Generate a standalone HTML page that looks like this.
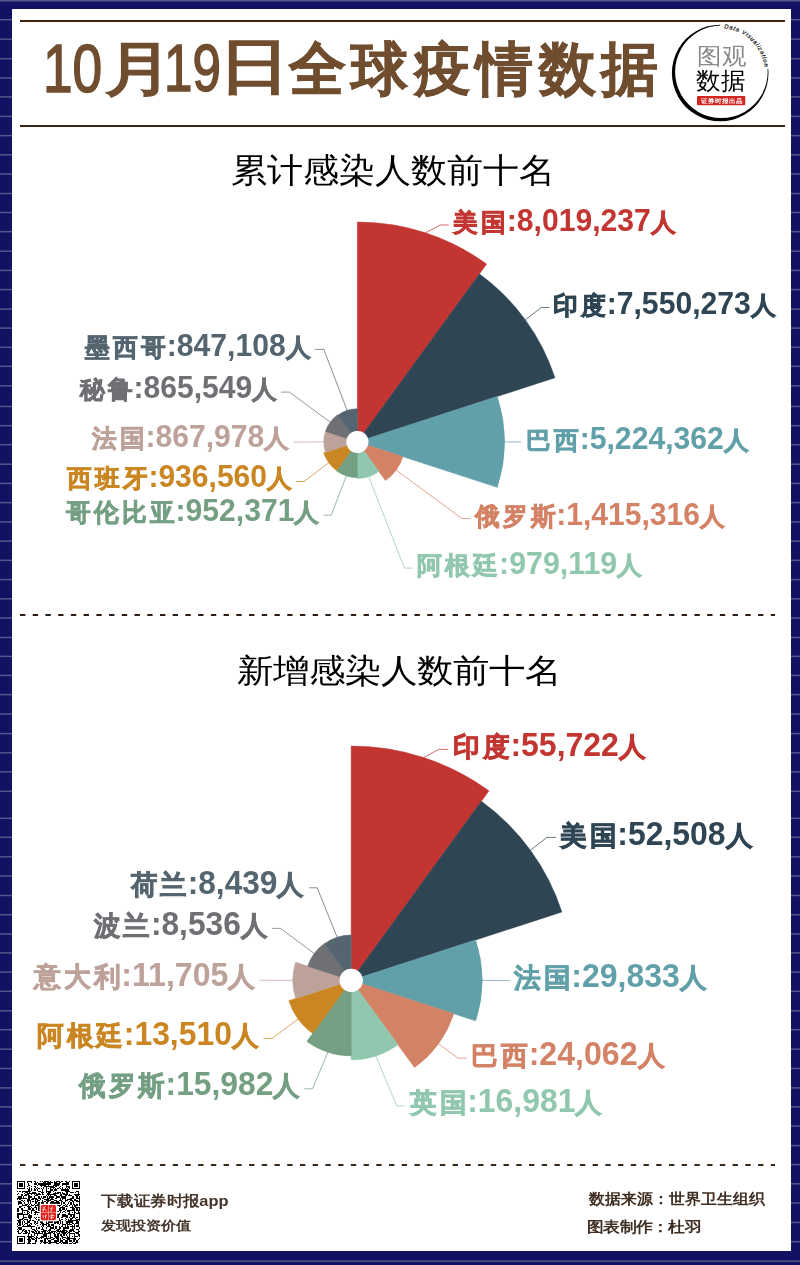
<!DOCTYPE html>
<html><head><meta charset="utf-8"><title>10月19日全球疫情数据</title>
<style>
*{margin:0;padding:0;box-sizing:border-box}
html,body{width:800px;height:1265px;overflow:hidden;background:#111262}
body{position:relative;font-family:"Liberation Sans",sans-serif}
#bg{position:absolute;left:0;top:0}
.lb{position:absolute;white-space:nowrap;font-size:30.5px;font-weight:bold;line-height:36px;transform-origin:0 0}
.c{font-size:24.7px;letter-spacing:3.3px;margin-right:-2.3px;-webkit-text-stroke:0.75px currentColor}
.lb2{font-size:32.4px}
.lb2 .c{font-size:26.6px;letter-spacing:3.1px;margin-right:-2.1px}
.t{position:absolute;white-space:nowrap;transform-origin:0 0;line-height:1.2}
</style></head><body>
<svg id="bg" width="800" height="1265" viewBox="0 0 800 1265">
<rect width="800" height="1265" fill="#111262"/>
<g fill="#56568a"><rect x="0" y="0.00" width="800" height="1.5"/><rect x="0" y="18.95" width="800" height="1.5"/><rect x="0" y="38.45" width="800" height="1.5"/><rect x="0" y="57.95" width="800" height="1.5"/><rect x="0" y="77.15" width="800" height="1.5"/><rect x="0" y="96.15" width="800" height="1.5"/><rect x="0" y="115.65" width="800" height="1.5"/><rect x="0" y="134.85" width="800" height="1.5"/><rect x="0" y="154.05" width="800" height="1.5"/><rect x="0" y="173.25" width="800" height="1.5"/><rect x="0" y="192.75" width="800" height="1.5"/><rect x="0" y="211.75" width="800" height="1.5"/><rect x="0" y="230.95" width="800" height="1.5"/><rect x="0" y="250.45" width="800" height="1.5"/><rect x="0" y="269.65" width="800" height="1.5"/><rect x="0" y="288.85" width="800" height="1.5"/><rect x="0" y="308.35" width="800" height="1.5"/><rect x="0" y="327.35" width="800" height="1.5"/><rect x="0" y="346.55" width="800" height="1.5"/><rect x="0" y="365.55" width="800" height="1.5"/><rect x="0" y="385.05" width="800" height="1.5"/><rect x="0" y="405.75" width="800" height="1.5"/><rect x="0" y="424.95" width="800" height="1.5"/><rect x="0" y="443.95" width="800" height="1.5"/><rect x="0" y="463.45" width="800" height="1.5"/><rect x="0" y="482.65" width="800" height="1.5"/><rect x="0" y="501.85" width="800" height="1.5"/><rect x="0" y="521.15" width="800" height="1.5"/><rect x="0" y="540.35" width="800" height="1.5"/><rect x="0" y="559.55" width="800" height="1.5"/><rect x="0" y="578.85" width="800" height="1.5"/><rect x="0" y="598.05" width="800" height="1.5"/><rect x="0" y="617.25" width="800" height="1.5"/><rect x="0" y="636.75" width="800" height="1.5"/><rect x="0" y="655.65" width="800" height="1.5"/><rect x="0" y="674.65" width="800" height="1.5"/><rect x="0" y="693.85" width="800" height="1.5"/><rect x="0" y="713.35" width="800" height="1.5"/><rect x="0" y="732.85" width="800" height="1.5"/><rect x="0" y="752.05" width="800" height="1.5"/><rect x="0" y="771.05" width="800" height="1.5"/><rect x="0" y="790.55" width="800" height="1.5"/><rect x="0" y="817.55" width="800" height="1.5"/><rect x="0" y="836.55" width="800" height="1.5"/><rect x="0" y="856.05" width="800" height="1.5"/><rect x="0" y="875.25" width="800" height="1.5"/><rect x="0" y="894.75" width="800" height="1.5"/><rect x="0" y="913.95" width="800" height="1.5"/><rect x="0" y="933.25" width="800" height="1.5"/><rect x="0" y="952.15" width="800" height="1.5"/><rect x="0" y="971.35" width="800" height="1.5"/><rect x="0" y="990.55" width="800" height="1.5"/><rect x="0" y="1010.05" width="800" height="1.5"/><rect x="0" y="1028.95" width="800" height="1.5"/><rect x="0" y="1048.45" width="800" height="1.5"/><rect x="0" y="1067.75" width="800" height="1.5"/><rect x="0" y="1087.15" width="800" height="1.5"/><rect x="0" y="1106.15" width="800" height="1.5"/><rect x="0" y="1125.35" width="800" height="1.5"/><rect x="0" y="1144.85" width="800" height="1.5"/><rect x="0" y="1163.85" width="800" height="1.5"/><rect x="0" y="1183.05" width="800" height="1.5"/><rect x="0" y="1202.25" width="800" height="1.5"/><rect x="0" y="1221.75" width="800" height="1.5"/><rect x="0" y="1240.95" width="800" height="1.5"/><rect x="0" y="1260.45" width="800" height="1.5"/></g>
<rect x="12" y="9" width="779" height="1242" fill="#ffffff"/>
<rect x="20" y="20" width="765" height="2" fill="#3b2412"/>
<rect x="20" y="125" width="765" height="2" fill="#3b2412"/>
<line x1="20" y1="615" x2="775" y2="615" stroke="#2e1d10" stroke-width="2" stroke-dasharray="5.35 7.375"/>
<line x1="20" y1="1165" x2="775" y2="1165" stroke="#3a2818" stroke-width="2" stroke-dasharray="5.35 7.375"/>
<path d="M357.40,430.90L357.40,222.10A219.80,219.80 0 0 1 486.60,264.08L363.87,433.00A11.00,11.00 0 0 0 357.40,430.90Z" fill="#c23531" stroke="#c23531" stroke-width="0.6" stroke-linejoin="round"/>
<path d="M363.87,433.00L479.42,273.96A207.59,207.59 0 0 1 554.83,377.75L367.86,438.50A11.00,11.00 0 0 0 363.87,433.00Z" fill="#2f4554" stroke="#2f4554" stroke-width="0.6" stroke-linejoin="round"/>
<path d="M367.86,438.50L497.23,396.47A147.03,147.03 0 0 1 497.23,487.33L367.86,445.30A11.00,11.00 0 0 0 367.86,438.50Z" fill="#61a0a8" stroke="#61a0a8" stroke-width="0.6" stroke-linejoin="round"/>
<path d="M367.86,445.30L402.91,456.69A47.85,47.85 0 0 1 385.53,480.61L363.87,450.80A11.00,11.00 0 0 0 367.86,445.30Z" fill="#d48265" stroke="#d48265" stroke-width="0.6" stroke-linejoin="round"/>
<path d="M363.87,450.80L378.85,471.42A36.49,36.49 0 0 1 357.40,478.39L357.40,452.90A11.00,11.00 0 0 0 363.87,450.80Z" fill="#91c7ae" stroke="#91c7ae" stroke-width="0.6" stroke-linejoin="round"/>
<path d="M357.40,452.90L357.40,477.70A35.80,35.80 0 0 1 336.36,470.86L350.93,450.80A11.00,11.00 0 0 0 357.40,452.90Z" fill="#749f83" stroke="#749f83" stroke-width="0.6" stroke-linejoin="round"/>
<path d="M350.93,450.80L336.60,470.53A35.39,35.39 0 0 1 323.75,452.83L346.94,445.30A11.00,11.00 0 0 0 350.93,450.80Z" fill="#ca8622" stroke="#ca8622" stroke-width="0.6" stroke-linejoin="round"/>
<path d="M346.94,445.30L325.44,452.28A33.60,33.60 0 0 1 325.44,431.52L346.94,438.50A11.00,11.00 0 0 0 346.94,445.30Z" fill="#bda29a" stroke="#bda29a" stroke-width="0.6" stroke-linejoin="round"/>
<path d="M346.94,438.50L325.50,431.54A33.54,33.54 0 0 1 337.69,414.77L350.93,433.00A11.00,11.00 0 0 0 346.94,438.50Z" fill="#6e7074" stroke="#6e7074" stroke-width="0.6" stroke-linejoin="round"/>
<path d="M350.93,433.00L337.97,415.16A33.06,33.06 0 0 1 357.40,408.84L357.40,430.90A11.00,11.00 0 0 0 350.93,433.00Z" fill="#546570" stroke="#546570" stroke-width="0.6" stroke-linejoin="round"/>
<path d="M425.3,232.9 L440.3,225.0 L448.8,225.0" fill="none" stroke="#c23531" stroke-width="0.9" stroke-opacity="0.8"/>
<path d="M525.3,319.9 L541.2,307.5 L549.5,307.5" fill="none" stroke="#2f4554" stroke-width="0.9" stroke-opacity="0.8"/>
<path d="M504.4,441.9 L521.0,441.9" fill="none" stroke="#61a0a8" stroke-width="0.9" stroke-opacity="0.8"/>
<path d="M396.1,470.0 L461.9,518.5 L470.0,518.5" fill="none" stroke="#d48265" stroke-width="0.9" stroke-opacity="0.8"/>
<path d="M368.7,476.6 L404.4,568.1 L412.8,568.1" fill="none" stroke="#91c7ae" stroke-width="0.9" stroke-opacity="0.8"/>
<path d="M346.3,475.9 L331.2,515.2 L323.5,515.2" fill="none" stroke="#749f83" stroke-width="0.9" stroke-opacity="0.8"/>
<path d="M328.8,462.7 L304.0,481.5 L296.0,481.5" fill="none" stroke="#ca8622" stroke-width="0.9" stroke-opacity="0.8"/>
<path d="M323.8,441.9 L294.0,442.2" fill="none" stroke="#bda29a" stroke-width="0.9" stroke-opacity="0.8"/>
<path d="M330.3,422.2 L289.4,392.1 L281.0,392.1" fill="none" stroke="#6e7074" stroke-width="0.9" stroke-opacity="0.8"/>
<path d="M347.2,410.5 L323.8,349.4 L314.8,349.4" fill="none" stroke="#546570" stroke-width="0.9" stroke-opacity="0.8"/>
<circle cx="357.4" cy="441.9" r="11" fill="#fff"/>
<path d="M351.20,968.80L351.20,746.10A234.30,234.30 0 0 1 488.92,790.85L358.02,971.02A11.60,11.60 0 0 0 351.20,968.80Z" fill="#c23531" stroke="#c23531" stroke-width="0.6" stroke-linejoin="round"/>
<path d="M358.02,971.02L481.37,801.24A221.45,221.45 0 0 1 561.82,911.97L362.23,976.82A11.60,11.60 0 0 0 358.02,971.02Z" fill="#2f4554" stroke="#2f4554" stroke-width="0.6" stroke-linejoin="round"/>
<path d="M362.23,976.82L475.63,939.97A130.83,130.83 0 0 1 475.63,1020.83L362.23,983.98A11.60,11.60 0 0 0 362.23,976.82Z" fill="#61a0a8" stroke="#61a0a8" stroke-width="0.6" stroke-linejoin="round"/>
<path d="M362.23,983.98L453.69,1013.70A107.77,107.77 0 0 1 414.54,1067.59L358.02,989.78A11.60,11.60 0 0 0 362.23,983.98Z" fill="#d48265" stroke="#d48265" stroke-width="0.6" stroke-linejoin="round"/>
<path d="M358.02,989.78L397.91,1044.69A79.47,79.47 0 0 1 351.20,1059.87L351.20,992.00A11.60,11.60 0 0 0 358.02,989.78Z" fill="#91c7ae" stroke="#91c7ae" stroke-width="0.6" stroke-linejoin="round"/>
<path d="M351.20,992.00L351.20,1055.87A75.47,75.47 0 0 1 306.84,1041.46L344.38,989.78A11.60,11.60 0 0 0 351.20,992.00Z" fill="#749f83" stroke="#749f83" stroke-width="0.6" stroke-linejoin="round"/>
<path d="M344.38,989.78L312.64,1033.47A65.59,65.59 0 0 1 288.82,1000.67L340.17,983.98A11.60,11.60 0 0 0 344.38,989.78Z" fill="#ca8622" stroke="#ca8622" stroke-width="0.6" stroke-linejoin="round"/>
<path d="M340.17,983.98L295.68,998.44A58.38,58.38 0 0 1 295.68,962.36L340.17,976.82A11.60,11.60 0 0 0 340.17,983.98Z" fill="#bda29a" stroke="#bda29a" stroke-width="0.6" stroke-linejoin="round"/>
<path d="M340.17,976.82L307.72,966.27A45.72,45.72 0 0 1 324.33,943.42L344.38,971.02A11.60,11.60 0 0 0 340.17,976.82Z" fill="#6e7074" stroke="#6e7074" stroke-width="0.6" stroke-linejoin="round"/>
<path d="M344.38,971.02L324.56,943.73A45.33,45.33 0 0 1 351.20,935.07L351.20,968.80A11.60,11.60 0 0 0 344.38,971.02Z" fill="#546570" stroke="#546570" stroke-width="0.6" stroke-linejoin="round"/>
<path d="M423.6,757.6 L438.8,749.4 L448.4,749.4" fill="none" stroke="#c23531" stroke-width="0.9" stroke-opacity="0.8"/>
<path d="M530.4,850.2 L546.9,837.4 L555.9,837.4" fill="none" stroke="#2f4554" stroke-width="0.9" stroke-opacity="0.8"/>
<path d="M482.0,980.4 L510.0,980.6" fill="none" stroke="#61a0a8" stroke-width="0.9" stroke-opacity="0.8"/>
<path d="M438.4,1043.7 L458.0,1058.2 L467.0,1058.2" fill="none" stroke="#d48265" stroke-width="0.9" stroke-opacity="0.8"/>
<path d="M375.8,1056.0 L396.8,1106.0 L404.4,1106.0" fill="none" stroke="#91c7ae" stroke-width="0.9" stroke-opacity="0.8"/>
<path d="M327.9,1052.2 L312.5,1088.8 L304.4,1088.8" fill="none" stroke="#749f83" stroke-width="0.9" stroke-opacity="0.8"/>
<path d="M298.1,1019.0 L272.2,1038.4 L263.5,1038.4" fill="none" stroke="#ca8622" stroke-width="0.9" stroke-opacity="0.8"/>
<path d="M292.8,980.4 L259.4,980.2" fill="none" stroke="#bda29a" stroke-width="0.9" stroke-opacity="0.8"/>
<path d="M314.2,953.5 L280.6,928.4 L272.2,928.4" fill="none" stroke="#6e7074" stroke-width="0.9" stroke-opacity="0.8"/>
<path d="M337.2,937.3 L317.2,887.8 L309.0,887.8" fill="none" stroke="#546570" stroke-width="0.9" stroke-opacity="0.8"/>
<circle cx="351.2" cy="980.4" r="11.6" fill="#fff"/>
<!-- logo -->
<defs>
<path id="arcp" d="M724.10,28.37 A44.8,44.8 0 0 1 764.97,74.56"/>
<mask id="lm"><rect x="660" y="15" width="130" height="115" fill="#fff"/><path d="M720.2,73 L720.2,0 L800,0 L800,66 Z" fill="#000"/></mask>
</defs>
<path mask="url(#lm)" fill-rule="evenodd" fill="#000" d="M720.2,24.7 a48.3,48.3 0 1,0 0.001,0 Z M721.4,25.5 a46.3,46.3 0 1,0 0.001,0 Z"/>
<text font-family="Liberation Sans" font-size="6" font-style="italic" letter-spacing="0.72" fill="#000" stroke="#000" stroke-width="0.15"><textPath href="#arcp">Data Visualization</textPath></text>
<rect x="697" y="96" width="48.3" height="9.2" rx="1" fill="#d0261f"/>
<g fill="#000" shape-rendering="crispEdges"><rect x="17.00" y="1181.00" width="8.32" height="1.19"/><rect x="26.51" y="1181.00" width="5.94" height="1.19"/><rect x="33.64" y="1181.00" width="2.38" height="1.19"/><rect x="39.58" y="1181.00" width="1.19" height="1.19"/><rect x="41.96" y="1181.00" width="1.19" height="1.19"/><rect x="44.34" y="1181.00" width="4.75" height="1.19"/><rect x="50.28" y="1181.00" width="1.19" height="1.19"/><rect x="53.85" y="1181.00" width="1.19" height="1.19"/><rect x="56.23" y="1181.00" width="3.57" height="1.19"/><rect x="60.98" y="1181.00" width="2.38" height="1.19"/><rect x="64.55" y="1181.00" width="2.38" height="1.19"/><rect x="69.30" y="1181.00" width="1.19" height="1.19"/><rect x="71.68" y="1181.00" width="8.32" height="1.19"/><rect x="17.00" y="1182.19" width="1.19" height="1.19"/><rect x="24.13" y="1182.19" width="1.19" height="1.19"/><rect x="26.51" y="1182.19" width="1.19" height="1.19"/><rect x="31.26" y="1182.19" width="1.19" height="1.19"/><rect x="34.83" y="1182.19" width="1.19" height="1.19"/><rect x="37.21" y="1182.19" width="1.19" height="1.19"/><rect x="43.15" y="1182.19" width="2.38" height="1.19"/><rect x="46.72" y="1182.19" width="5.94" height="1.19"/><rect x="53.85" y="1182.19" width="3.57" height="1.19"/><rect x="58.60" y="1182.19" width="2.38" height="1.19"/><rect x="65.74" y="1182.19" width="3.57" height="1.19"/><rect x="71.68" y="1182.19" width="1.19" height="1.19"/><rect x="78.81" y="1182.19" width="1.19" height="1.19"/><rect x="17.00" y="1183.38" width="1.19" height="1.19"/><rect x="19.38" y="1183.38" width="3.57" height="1.19"/><rect x="24.13" y="1183.38" width="1.19" height="1.19"/><rect x="27.70" y="1183.38" width="1.19" height="1.19"/><rect x="33.64" y="1183.38" width="3.57" height="1.19"/><rect x="38.40" y="1183.38" width="13.08" height="1.19"/><rect x="53.85" y="1183.38" width="5.94" height="1.19"/><rect x="62.17" y="1183.38" width="7.13" height="1.19"/><rect x="71.68" y="1183.38" width="1.19" height="1.19"/><rect x="74.06" y="1183.38" width="3.57" height="1.19"/><rect x="78.81" y="1183.38" width="1.19" height="1.19"/><rect x="17.00" y="1184.57" width="1.19" height="1.19"/><rect x="19.38" y="1184.57" width="3.57" height="1.19"/><rect x="24.13" y="1184.57" width="1.19" height="1.19"/><rect x="27.70" y="1184.57" width="2.38" height="1.19"/><rect x="37.21" y="1184.57" width="1.19" height="1.19"/><rect x="39.58" y="1184.57" width="5.94" height="1.19"/><rect x="47.91" y="1184.57" width="1.19" height="1.19"/><rect x="52.66" y="1184.57" width="5.94" height="1.19"/><rect x="62.17" y="1184.57" width="1.19" height="1.19"/><rect x="65.74" y="1184.57" width="1.19" height="1.19"/><rect x="71.68" y="1184.57" width="1.19" height="1.19"/><rect x="74.06" y="1184.57" width="3.57" height="1.19"/><rect x="78.81" y="1184.57" width="1.19" height="1.19"/><rect x="17.00" y="1185.75" width="1.19" height="1.19"/><rect x="19.38" y="1185.75" width="3.57" height="1.19"/><rect x="24.13" y="1185.75" width="1.19" height="1.19"/><rect x="26.51" y="1185.75" width="1.19" height="1.19"/><rect x="31.26" y="1185.75" width="1.19" height="1.19"/><rect x="33.64" y="1185.75" width="2.38" height="1.19"/><rect x="40.77" y="1185.75" width="1.19" height="1.19"/><rect x="44.34" y="1185.75" width="9.51" height="1.19"/><rect x="55.04" y="1185.75" width="2.38" height="1.19"/><rect x="59.79" y="1185.75" width="1.19" height="1.19"/><rect x="65.74" y="1185.75" width="4.75" height="1.19"/><rect x="71.68" y="1185.75" width="1.19" height="1.19"/><rect x="74.06" y="1185.75" width="3.57" height="1.19"/><rect x="78.81" y="1185.75" width="1.19" height="1.19"/><rect x="17.00" y="1186.94" width="1.19" height="1.19"/><rect x="24.13" y="1186.94" width="1.19" height="1.19"/><rect x="28.89" y="1186.94" width="1.19" height="1.19"/><rect x="34.83" y="1186.94" width="1.19" height="1.19"/><rect x="37.21" y="1186.94" width="1.19" height="1.19"/><rect x="43.15" y="1186.94" width="1.19" height="1.19"/><rect x="45.53" y="1186.94" width="1.19" height="1.19"/><rect x="50.28" y="1186.94" width="4.75" height="1.19"/><rect x="58.60" y="1186.94" width="1.19" height="1.19"/><rect x="62.17" y="1186.94" width="1.19" height="1.19"/><rect x="65.74" y="1186.94" width="1.19" height="1.19"/><rect x="68.11" y="1186.94" width="2.38" height="1.19"/><rect x="71.68" y="1186.94" width="1.19" height="1.19"/><rect x="78.81" y="1186.94" width="1.19" height="1.19"/><rect x="17.00" y="1188.13" width="8.32" height="1.19"/><rect x="26.51" y="1188.13" width="1.19" height="1.19"/><rect x="28.89" y="1188.13" width="1.19" height="1.19"/><rect x="31.26" y="1188.13" width="1.19" height="1.19"/><rect x="33.64" y="1188.13" width="1.19" height="1.19"/><rect x="36.02" y="1188.13" width="1.19" height="1.19"/><rect x="38.40" y="1188.13" width="1.19" height="1.19"/><rect x="40.77" y="1188.13" width="1.19" height="1.19"/><rect x="43.15" y="1188.13" width="1.19" height="1.19"/><rect x="45.53" y="1188.13" width="1.19" height="1.19"/><rect x="47.91" y="1188.13" width="1.19" height="1.19"/><rect x="50.28" y="1188.13" width="1.19" height="1.19"/><rect x="52.66" y="1188.13" width="1.19" height="1.19"/><rect x="55.04" y="1188.13" width="1.19" height="1.19"/><rect x="57.42" y="1188.13" width="1.19" height="1.19"/><rect x="59.79" y="1188.13" width="1.19" height="1.19"/><rect x="62.17" y="1188.13" width="1.19" height="1.19"/><rect x="64.55" y="1188.13" width="1.19" height="1.19"/><rect x="66.92" y="1188.13" width="1.19" height="1.19"/><rect x="69.30" y="1188.13" width="1.19" height="1.19"/><rect x="71.68" y="1188.13" width="8.32" height="1.19"/><rect x="27.70" y="1189.32" width="2.38" height="1.19"/><rect x="31.26" y="1189.32" width="1.19" height="1.19"/><rect x="33.64" y="1189.32" width="2.38" height="1.19"/><rect x="37.21" y="1189.32" width="1.19" height="1.19"/><rect x="41.96" y="1189.32" width="1.19" height="1.19"/><rect x="45.53" y="1189.32" width="1.19" height="1.19"/><rect x="50.28" y="1189.32" width="2.38" height="1.19"/><rect x="53.85" y="1189.32" width="3.57" height="1.19"/><rect x="60.98" y="1189.32" width="8.32" height="1.19"/><rect x="17.00" y="1190.51" width="1.19" height="1.19"/><rect x="19.38" y="1190.51" width="1.19" height="1.19"/><rect x="21.75" y="1190.51" width="9.51" height="1.19"/><rect x="38.40" y="1190.51" width="2.38" height="1.19"/><rect x="41.96" y="1190.51" width="1.19" height="1.19"/><rect x="45.53" y="1190.51" width="5.94" height="1.19"/><rect x="52.66" y="1190.51" width="1.19" height="1.19"/><rect x="64.55" y="1190.51" width="5.94" height="1.19"/><rect x="76.43" y="1190.51" width="2.38" height="1.19"/><rect x="21.75" y="1191.70" width="1.19" height="1.19"/><rect x="25.32" y="1191.70" width="2.38" height="1.19"/><rect x="28.89" y="1191.70" width="1.19" height="1.19"/><rect x="32.45" y="1191.70" width="3.57" height="1.19"/><rect x="40.77" y="1191.70" width="3.57" height="1.19"/><rect x="45.53" y="1191.70" width="1.19" height="1.19"/><rect x="47.91" y="1191.70" width="3.57" height="1.19"/><rect x="55.04" y="1191.70" width="1.19" height="1.19"/><rect x="57.42" y="1191.70" width="3.57" height="1.19"/><rect x="62.17" y="1191.70" width="1.19" height="1.19"/><rect x="65.74" y="1191.70" width="2.38" height="1.19"/><rect x="70.49" y="1191.70" width="3.57" height="1.19"/><rect x="75.25" y="1191.70" width="1.19" height="1.19"/><rect x="77.62" y="1191.70" width="1.19" height="1.19"/><rect x="18.19" y="1192.89" width="1.19" height="1.19"/><rect x="24.13" y="1192.89" width="1.19" height="1.19"/><rect x="26.51" y="1192.89" width="10.70" height="1.19"/><rect x="38.40" y="1192.89" width="1.19" height="1.19"/><rect x="41.96" y="1192.89" width="1.19" height="1.19"/><rect x="46.72" y="1192.89" width="3.57" height="1.19"/><rect x="52.66" y="1192.89" width="5.94" height="1.19"/><rect x="59.79" y="1192.89" width="1.19" height="1.19"/><rect x="62.17" y="1192.89" width="2.38" height="1.19"/><rect x="65.74" y="1192.89" width="2.38" height="1.19"/><rect x="77.62" y="1192.89" width="1.19" height="1.19"/><rect x="17.00" y="1194.08" width="1.19" height="1.19"/><rect x="20.57" y="1194.08" width="2.38" height="1.19"/><rect x="25.32" y="1194.08" width="3.57" height="1.19"/><rect x="31.26" y="1194.08" width="1.19" height="1.19"/><rect x="33.64" y="1194.08" width="1.19" height="1.19"/><rect x="36.02" y="1194.08" width="4.75" height="1.19"/><rect x="41.96" y="1194.08" width="2.38" height="1.19"/><rect x="46.72" y="1194.08" width="9.51" height="1.19"/><rect x="59.79" y="1194.08" width="2.38" height="1.19"/><rect x="63.36" y="1194.08" width="4.75" height="1.19"/><rect x="69.30" y="1194.08" width="1.19" height="1.19"/><rect x="74.06" y="1194.08" width="5.94" height="1.19"/><rect x="20.57" y="1195.26" width="2.38" height="1.19"/><rect x="24.13" y="1195.26" width="2.38" height="1.19"/><rect x="27.70" y="1195.26" width="2.38" height="1.19"/><rect x="34.83" y="1195.26" width="3.57" height="1.19"/><rect x="45.53" y="1195.26" width="1.19" height="1.19"/><rect x="47.91" y="1195.26" width="1.19" height="1.19"/><rect x="50.28" y="1195.26" width="1.19" height="1.19"/><rect x="53.85" y="1195.26" width="3.57" height="1.19"/><rect x="59.79" y="1195.26" width="2.38" height="1.19"/><rect x="64.55" y="1195.26" width="2.38" height="1.19"/><rect x="68.11" y="1195.26" width="3.57" height="1.19"/><rect x="75.25" y="1195.26" width="3.57" height="1.19"/><rect x="18.19" y="1196.45" width="3.57" height="1.19"/><rect x="22.94" y="1196.45" width="1.19" height="1.19"/><rect x="27.70" y="1196.45" width="4.75" height="1.19"/><rect x="33.64" y="1196.45" width="1.19" height="1.19"/><rect x="38.40" y="1196.45" width="1.19" height="1.19"/><rect x="40.77" y="1196.45" width="1.19" height="1.19"/><rect x="43.15" y="1196.45" width="2.38" height="1.19"/><rect x="46.72" y="1196.45" width="1.19" height="1.19"/><rect x="49.09" y="1196.45" width="4.75" height="1.19"/><rect x="56.23" y="1196.45" width="3.57" height="1.19"/><rect x="60.98" y="1196.45" width="4.75" height="1.19"/><rect x="71.68" y="1196.45" width="2.38" height="1.19"/><rect x="76.43" y="1196.45" width="1.19" height="1.19"/><rect x="78.81" y="1196.45" width="1.19" height="1.19"/><rect x="17.00" y="1197.64" width="9.51" height="1.19"/><rect x="27.70" y="1197.64" width="2.38" height="1.19"/><rect x="32.45" y="1197.64" width="4.75" height="1.19"/><rect x="38.40" y="1197.64" width="2.38" height="1.19"/><rect x="41.96" y="1197.64" width="2.38" height="1.19"/><rect x="46.72" y="1197.64" width="3.57" height="1.19"/><rect x="51.47" y="1197.64" width="1.19" height="1.19"/><rect x="55.04" y="1197.64" width="2.38" height="1.19"/><rect x="59.79" y="1197.64" width="1.19" height="1.19"/><rect x="62.17" y="1197.64" width="3.57" height="1.19"/><rect x="70.49" y="1197.64" width="3.57" height="1.19"/><rect x="76.43" y="1197.64" width="3.57" height="1.19"/><rect x="17.00" y="1198.83" width="1.19" height="1.19"/><rect x="19.38" y="1198.83" width="1.19" height="1.19"/><rect x="26.51" y="1198.83" width="3.57" height="1.19"/><rect x="31.26" y="1198.83" width="2.38" height="1.19"/><rect x="34.83" y="1198.83" width="3.57" height="1.19"/><rect x="39.58" y="1198.83" width="1.19" height="1.19"/><rect x="44.34" y="1198.83" width="4.75" height="1.19"/><rect x="50.28" y="1198.83" width="3.57" height="1.19"/><rect x="59.79" y="1198.83" width="1.19" height="1.19"/><rect x="62.17" y="1198.83" width="1.19" height="1.19"/><rect x="64.55" y="1198.83" width="1.19" height="1.19"/><rect x="66.92" y="1198.83" width="4.75" height="1.19"/><rect x="74.06" y="1198.83" width="2.38" height="1.19"/><rect x="78.81" y="1198.83" width="1.19" height="1.19"/><rect x="20.57" y="1200.02" width="2.38" height="1.19"/><rect x="24.13" y="1200.02" width="1.19" height="1.19"/><rect x="26.51" y="1200.02" width="4.75" height="1.19"/><rect x="34.83" y="1200.02" width="1.19" height="1.19"/><rect x="37.21" y="1200.02" width="2.38" height="1.19"/><rect x="41.96" y="1200.02" width="1.19" height="1.19"/><rect x="45.53" y="1200.02" width="5.94" height="1.19"/><rect x="53.85" y="1200.02" width="3.57" height="1.19"/><rect x="58.60" y="1200.02" width="3.57" height="1.19"/><rect x="64.55" y="1200.02" width="3.57" height="1.19"/><rect x="70.49" y="1200.02" width="2.38" height="1.19"/><rect x="74.06" y="1200.02" width="3.57" height="1.19"/><rect x="78.81" y="1200.02" width="1.19" height="1.19"/><rect x="18.19" y="1201.21" width="2.38" height="1.19"/><rect x="22.94" y="1201.21" width="1.19" height="1.19"/><rect x="26.51" y="1201.21" width="2.38" height="1.19"/><rect x="30.08" y="1201.21" width="1.19" height="1.19"/><rect x="32.45" y="1201.21" width="1.19" height="1.19"/><rect x="34.83" y="1201.21" width="3.57" height="1.19"/><rect x="41.96" y="1201.21" width="1.19" height="1.19"/><rect x="44.34" y="1201.21" width="1.19" height="1.19"/><rect x="46.72" y="1201.21" width="2.38" height="1.19"/><rect x="51.47" y="1201.21" width="2.38" height="1.19"/><rect x="56.23" y="1201.21" width="2.38" height="1.19"/><rect x="60.98" y="1201.21" width="2.38" height="1.19"/><rect x="64.55" y="1201.21" width="1.19" height="1.19"/><rect x="69.30" y="1201.21" width="1.19" height="1.19"/><rect x="71.68" y="1201.21" width="2.38" height="1.19"/><rect x="76.43" y="1201.21" width="3.57" height="1.19"/><rect x="18.19" y="1202.40" width="3.57" height="1.19"/><rect x="24.13" y="1202.40" width="1.19" height="1.19"/><rect x="27.70" y="1202.40" width="1.19" height="1.19"/><rect x="30.08" y="1202.40" width="1.19" height="1.19"/><rect x="34.83" y="1202.40" width="2.38" height="1.19"/><rect x="38.40" y="1202.40" width="1.19" height="1.19"/><rect x="40.77" y="1202.40" width="3.57" height="1.19"/><rect x="45.53" y="1202.40" width="2.38" height="1.19"/><rect x="50.28" y="1202.40" width="9.51" height="1.19"/><rect x="60.98" y="1202.40" width="1.19" height="1.19"/><rect x="63.36" y="1202.40" width="1.19" height="1.19"/><rect x="68.11" y="1202.40" width="1.19" height="1.19"/><rect x="70.49" y="1202.40" width="1.19" height="1.19"/><rect x="72.87" y="1202.40" width="1.19" height="1.19"/><rect x="78.81" y="1202.40" width="1.19" height="1.19"/><rect x="18.19" y="1203.58" width="1.19" height="1.19"/><rect x="21.75" y="1203.58" width="1.19" height="1.19"/><rect x="25.32" y="1203.58" width="2.38" height="1.19"/><rect x="28.89" y="1203.58" width="1.19" height="1.19"/><rect x="31.26" y="1203.58" width="1.19" height="1.19"/><rect x="33.64" y="1203.58" width="1.19" height="1.19"/><rect x="37.21" y="1203.58" width="2.38" height="1.19"/><rect x="40.77" y="1203.58" width="4.75" height="1.19"/><rect x="49.09" y="1203.58" width="1.19" height="1.19"/><rect x="51.47" y="1203.58" width="1.19" height="1.19"/><rect x="55.04" y="1203.58" width="1.19" height="1.19"/><rect x="60.98" y="1203.58" width="1.19" height="1.19"/><rect x="64.55" y="1203.58" width="1.19" height="1.19"/><rect x="66.92" y="1203.58" width="1.19" height="1.19"/><rect x="70.49" y="1203.58" width="1.19" height="1.19"/><rect x="72.87" y="1203.58" width="2.38" height="1.19"/><rect x="76.43" y="1203.58" width="1.19" height="1.19"/><rect x="78.81" y="1203.58" width="1.19" height="1.19"/><rect x="21.75" y="1204.77" width="4.75" height="1.19"/><rect x="27.70" y="1204.77" width="1.19" height="1.19"/><rect x="31.26" y="1204.77" width="2.38" height="1.19"/><rect x="34.83" y="1204.77" width="7.13" height="1.19"/><rect x="44.34" y="1204.77" width="1.19" height="1.19"/><rect x="46.72" y="1204.77" width="2.38" height="1.19"/><rect x="50.28" y="1204.77" width="3.57" height="1.19"/><rect x="57.42" y="1204.77" width="3.57" height="1.19"/><rect x="63.36" y="1204.77" width="1.19" height="1.19"/><rect x="65.74" y="1204.77" width="1.19" height="1.19"/><rect x="69.30" y="1204.77" width="1.19" height="1.19"/><rect x="71.68" y="1204.77" width="1.19" height="1.19"/><rect x="74.06" y="1204.77" width="3.57" height="1.19"/><rect x="78.81" y="1204.77" width="1.19" height="1.19"/><rect x="19.38" y="1205.96" width="2.38" height="1.19"/><rect x="26.51" y="1205.96" width="4.75" height="1.19"/><rect x="34.83" y="1205.96" width="1.19" height="1.19"/><rect x="38.40" y="1205.96" width="1.19" height="1.19"/><rect x="40.77" y="1205.96" width="7.13" height="1.19"/><rect x="52.66" y="1205.96" width="1.19" height="1.19"/><rect x="55.04" y="1205.96" width="1.19" height="1.19"/><rect x="58.60" y="1205.96" width="1.19" height="1.19"/><rect x="62.17" y="1205.96" width="1.19" height="1.19"/><rect x="64.55" y="1205.96" width="3.57" height="1.19"/><rect x="71.68" y="1205.96" width="1.19" height="1.19"/><rect x="74.06" y="1205.96" width="2.38" height="1.19"/><rect x="19.38" y="1207.15" width="1.19" height="1.19"/><rect x="24.13" y="1207.15" width="1.19" height="1.19"/><rect x="27.70" y="1207.15" width="2.38" height="1.19"/><rect x="31.26" y="1207.15" width="1.19" height="1.19"/><rect x="33.64" y="1207.15" width="3.57" height="1.19"/><rect x="38.40" y="1207.15" width="4.75" height="1.19"/><rect x="47.91" y="1207.15" width="1.19" height="1.19"/><rect x="50.28" y="1207.15" width="1.19" height="1.19"/><rect x="55.04" y="1207.15" width="1.19" height="1.19"/><rect x="59.79" y="1207.15" width="4.75" height="1.19"/><rect x="70.49" y="1207.15" width="3.57" height="1.19"/><rect x="75.25" y="1207.15" width="4.75" height="1.19"/><rect x="17.00" y="1208.34" width="2.38" height="1.19"/><rect x="20.57" y="1208.34" width="2.38" height="1.19"/><rect x="27.70" y="1208.34" width="3.57" height="1.19"/><rect x="32.45" y="1208.34" width="1.19" height="1.19"/><rect x="36.02" y="1208.34" width="1.19" height="1.19"/><rect x="38.40" y="1208.34" width="1.19" height="1.19"/><rect x="40.77" y="1208.34" width="3.57" height="1.19"/><rect x="46.72" y="1208.34" width="3.57" height="1.19"/><rect x="51.47" y="1208.34" width="3.57" height="1.19"/><rect x="56.23" y="1208.34" width="1.19" height="1.19"/><rect x="58.60" y="1208.34" width="2.38" height="1.19"/><rect x="62.17" y="1208.34" width="2.38" height="1.19"/><rect x="65.74" y="1208.34" width="1.19" height="1.19"/><rect x="71.68" y="1208.34" width="3.57" height="1.19"/><rect x="76.43" y="1208.34" width="1.19" height="1.19"/><rect x="78.81" y="1208.34" width="1.19" height="1.19"/><rect x="17.00" y="1209.53" width="2.38" height="1.19"/><rect x="21.75" y="1209.53" width="5.94" height="1.19"/><rect x="31.26" y="1209.53" width="3.57" height="1.19"/><rect x="38.40" y="1209.53" width="2.38" height="1.19"/><rect x="43.15" y="1209.53" width="8.32" height="1.19"/><rect x="52.66" y="1209.53" width="4.75" height="1.19"/><rect x="58.60" y="1209.53" width="3.57" height="1.19"/><rect x="64.55" y="1209.53" width="1.19" height="1.19"/><rect x="66.92" y="1209.53" width="8.32" height="1.19"/><rect x="76.43" y="1209.53" width="3.57" height="1.19"/><rect x="17.00" y="1210.72" width="2.38" height="1.19"/><rect x="21.75" y="1210.72" width="1.19" height="1.19"/><rect x="26.51" y="1210.72" width="2.38" height="1.19"/><rect x="31.26" y="1210.72" width="1.19" height="1.19"/><rect x="34.83" y="1210.72" width="2.38" height="1.19"/><rect x="45.53" y="1210.72" width="1.19" height="1.19"/><rect x="50.28" y="1210.72" width="1.19" height="1.19"/><rect x="55.04" y="1210.72" width="3.57" height="1.19"/><rect x="59.79" y="1210.72" width="1.19" height="1.19"/><rect x="63.36" y="1210.72" width="1.19" height="1.19"/><rect x="66.92" y="1210.72" width="3.57" height="1.19"/><rect x="74.06" y="1210.72" width="1.19" height="1.19"/><rect x="77.62" y="1210.72" width="1.19" height="1.19"/><rect x="21.75" y="1211.91" width="1.19" height="1.19"/><rect x="24.13" y="1211.91" width="1.19" height="1.19"/><rect x="26.51" y="1211.91" width="1.19" height="1.19"/><rect x="28.89" y="1211.91" width="1.19" height="1.19"/><rect x="31.26" y="1211.91" width="1.19" height="1.19"/><rect x="33.64" y="1211.91" width="8.32" height="1.19"/><rect x="43.15" y="1211.91" width="3.57" height="1.19"/><rect x="47.91" y="1211.91" width="1.19" height="1.19"/><rect x="50.28" y="1211.91" width="1.19" height="1.19"/><rect x="52.66" y="1211.91" width="3.57" height="1.19"/><rect x="59.79" y="1211.91" width="1.19" height="1.19"/><rect x="62.17" y="1211.91" width="1.19" height="1.19"/><rect x="64.55" y="1211.91" width="1.19" height="1.19"/><rect x="69.30" y="1211.91" width="1.19" height="1.19"/><rect x="71.68" y="1211.91" width="1.19" height="1.19"/><rect x="74.06" y="1211.91" width="2.38" height="1.19"/><rect x="77.62" y="1211.91" width="2.38" height="1.19"/><rect x="17.00" y="1213.09" width="5.94" height="1.19"/><rect x="26.51" y="1213.09" width="2.38" height="1.19"/><rect x="31.26" y="1213.09" width="1.19" height="1.19"/><rect x="34.83" y="1213.09" width="1.19" height="1.19"/><rect x="39.58" y="1213.09" width="1.19" height="1.19"/><rect x="43.15" y="1213.09" width="3.57" height="1.19"/><rect x="50.28" y="1213.09" width="2.38" height="1.19"/><rect x="53.85" y="1213.09" width="2.38" height="1.19"/><rect x="58.60" y="1213.09" width="1.19" height="1.19"/><rect x="68.11" y="1213.09" width="2.38" height="1.19"/><rect x="74.06" y="1213.09" width="1.19" height="1.19"/><rect x="76.43" y="1213.09" width="3.57" height="1.19"/><rect x="17.00" y="1214.28" width="10.70" height="1.19"/><rect x="28.89" y="1214.28" width="1.19" height="1.19"/><rect x="33.64" y="1214.28" width="2.38" height="1.19"/><rect x="37.21" y="1214.28" width="1.19" height="1.19"/><rect x="40.77" y="1214.28" width="1.19" height="1.19"/><rect x="45.53" y="1214.28" width="7.13" height="1.19"/><rect x="55.04" y="1214.28" width="1.19" height="1.19"/><rect x="57.42" y="1214.28" width="2.38" height="1.19"/><rect x="62.17" y="1214.28" width="3.57" height="1.19"/><rect x="68.11" y="1214.28" width="7.13" height="1.19"/><rect x="78.81" y="1214.28" width="1.19" height="1.19"/><rect x="17.00" y="1215.47" width="2.38" height="1.19"/><rect x="22.94" y="1215.47" width="1.19" height="1.19"/><rect x="27.70" y="1215.47" width="4.75" height="1.19"/><rect x="45.53" y="1215.47" width="1.19" height="1.19"/><rect x="47.91" y="1215.47" width="1.19" height="1.19"/><rect x="50.28" y="1215.47" width="3.57" height="1.19"/><rect x="57.42" y="1215.47" width="1.19" height="1.19"/><rect x="62.17" y="1215.47" width="5.94" height="1.19"/><rect x="70.49" y="1215.47" width="1.19" height="1.19"/><rect x="72.87" y="1215.47" width="2.38" height="1.19"/><rect x="78.81" y="1215.47" width="1.19" height="1.19"/><rect x="17.00" y="1216.66" width="2.38" height="1.19"/><rect x="22.94" y="1216.66" width="3.57" height="1.19"/><rect x="27.70" y="1216.66" width="4.75" height="1.19"/><rect x="33.64" y="1216.66" width="1.19" height="1.19"/><rect x="36.02" y="1216.66" width="1.19" height="1.19"/><rect x="38.40" y="1216.66" width="2.38" height="1.19"/><rect x="41.96" y="1216.66" width="1.19" height="1.19"/><rect x="44.34" y="1216.66" width="2.38" height="1.19"/><rect x="51.47" y="1216.66" width="1.19" height="1.19"/><rect x="55.04" y="1216.66" width="1.19" height="1.19"/><rect x="57.42" y="1216.66" width="1.19" height="1.19"/><rect x="60.98" y="1216.66" width="2.38" height="1.19"/><rect x="65.74" y="1216.66" width="2.38" height="1.19"/><rect x="69.30" y="1216.66" width="1.19" height="1.19"/><rect x="71.68" y="1216.66" width="3.57" height="1.19"/><rect x="76.43" y="1216.66" width="1.19" height="1.19"/><rect x="78.81" y="1216.66" width="1.19" height="1.19"/><rect x="18.19" y="1217.85" width="1.19" height="1.19"/><rect x="21.75" y="1217.85" width="2.38" height="1.19"/><rect x="28.89" y="1217.85" width="2.38" height="1.19"/><rect x="34.83" y="1217.85" width="1.19" height="1.19"/><rect x="40.77" y="1217.85" width="2.38" height="1.19"/><rect x="44.34" y="1217.85" width="1.19" height="1.19"/><rect x="50.28" y="1217.85" width="4.75" height="1.19"/><rect x="58.60" y="1217.85" width="1.19" height="1.19"/><rect x="64.55" y="1217.85" width="1.19" height="1.19"/><rect x="70.49" y="1217.85" width="2.38" height="1.19"/><rect x="75.25" y="1217.85" width="1.19" height="1.19"/><rect x="78.81" y="1217.85" width="1.19" height="1.19"/><rect x="19.38" y="1219.04" width="3.57" height="1.19"/><rect x="24.13" y="1219.04" width="3.57" height="1.19"/><rect x="30.08" y="1219.04" width="1.19" height="1.19"/><rect x="36.02" y="1219.04" width="1.19" height="1.19"/><rect x="38.40" y="1219.04" width="3.57" height="1.19"/><rect x="43.15" y="1219.04" width="1.19" height="1.19"/><rect x="45.53" y="1219.04" width="1.19" height="1.19"/><rect x="47.91" y="1219.04" width="2.38" height="1.19"/><rect x="51.47" y="1219.04" width="2.38" height="1.19"/><rect x="56.23" y="1219.04" width="1.19" height="1.19"/><rect x="58.60" y="1219.04" width="1.19" height="1.19"/><rect x="60.98" y="1219.04" width="2.38" height="1.19"/><rect x="65.74" y="1219.04" width="1.19" height="1.19"/><rect x="68.11" y="1219.04" width="1.19" height="1.19"/><rect x="70.49" y="1219.04" width="1.19" height="1.19"/><rect x="76.43" y="1219.04" width="3.57" height="1.19"/><rect x="17.00" y="1220.23" width="3.57" height="1.19"/><rect x="22.94" y="1220.23" width="1.19" height="1.19"/><rect x="26.51" y="1220.23" width="1.19" height="1.19"/><rect x="28.89" y="1220.23" width="2.38" height="1.19"/><rect x="32.45" y="1220.23" width="1.19" height="1.19"/><rect x="38.40" y="1220.23" width="3.57" height="1.19"/><rect x="44.34" y="1220.23" width="4.75" height="1.19"/><rect x="52.66" y="1220.23" width="1.19" height="1.19"/><rect x="58.60" y="1220.23" width="2.38" height="1.19"/><rect x="64.55" y="1220.23" width="1.19" height="1.19"/><rect x="68.11" y="1220.23" width="9.51" height="1.19"/><rect x="78.81" y="1220.23" width="1.19" height="1.19"/><rect x="18.19" y="1221.42" width="2.38" height="1.19"/><rect x="21.75" y="1221.42" width="1.19" height="1.19"/><rect x="24.13" y="1221.42" width="1.19" height="1.19"/><rect x="26.51" y="1221.42" width="3.57" height="1.19"/><rect x="33.64" y="1221.42" width="2.38" height="1.19"/><rect x="37.21" y="1221.42" width="1.19" height="1.19"/><rect x="39.58" y="1221.42" width="3.57" height="1.19"/><rect x="45.53" y="1221.42" width="1.19" height="1.19"/><rect x="47.91" y="1221.42" width="4.75" height="1.19"/><rect x="53.85" y="1221.42" width="4.75" height="1.19"/><rect x="59.79" y="1221.42" width="1.19" height="1.19"/><rect x="62.17" y="1221.42" width="1.19" height="1.19"/><rect x="65.74" y="1221.42" width="7.13" height="1.19"/><rect x="76.43" y="1221.42" width="2.38" height="1.19"/><rect x="17.00" y="1222.60" width="1.19" height="1.19"/><rect x="19.38" y="1222.60" width="1.19" height="1.19"/><rect x="21.75" y="1222.60" width="1.19" height="1.19"/><rect x="25.32" y="1222.60" width="2.38" height="1.19"/><rect x="30.08" y="1222.60" width="2.38" height="1.19"/><rect x="33.64" y="1222.60" width="1.19" height="1.19"/><rect x="36.02" y="1222.60" width="2.38" height="1.19"/><rect x="40.77" y="1222.60" width="3.57" height="1.19"/><rect x="45.53" y="1222.60" width="3.57" height="1.19"/><rect x="53.85" y="1222.60" width="2.38" height="1.19"/><rect x="57.42" y="1222.60" width="1.19" height="1.19"/><rect x="59.79" y="1222.60" width="1.19" height="1.19"/><rect x="62.17" y="1222.60" width="1.19" height="1.19"/><rect x="65.74" y="1222.60" width="2.38" height="1.19"/><rect x="69.30" y="1222.60" width="1.19" height="1.19"/><rect x="71.68" y="1222.60" width="2.38" height="1.19"/><rect x="75.25" y="1222.60" width="3.57" height="1.19"/><rect x="17.00" y="1223.79" width="1.19" height="1.19"/><rect x="19.38" y="1223.79" width="1.19" height="1.19"/><rect x="21.75" y="1223.79" width="1.19" height="1.19"/><rect x="24.13" y="1223.79" width="1.19" height="1.19"/><rect x="26.51" y="1223.79" width="1.19" height="1.19"/><rect x="28.89" y="1223.79" width="1.19" height="1.19"/><rect x="31.26" y="1223.79" width="1.19" height="1.19"/><rect x="34.83" y="1223.79" width="1.19" height="1.19"/><rect x="39.58" y="1223.79" width="1.19" height="1.19"/><rect x="41.96" y="1223.79" width="4.75" height="1.19"/><rect x="47.91" y="1223.79" width="2.38" height="1.19"/><rect x="51.47" y="1223.79" width="2.38" height="1.19"/><rect x="58.60" y="1223.79" width="1.19" height="1.19"/><rect x="62.17" y="1223.79" width="3.57" height="1.19"/><rect x="66.92" y="1223.79" width="4.75" height="1.19"/><rect x="74.06" y="1223.79" width="1.19" height="1.19"/><rect x="77.62" y="1223.79" width="1.19" height="1.19"/><rect x="18.19" y="1224.98" width="2.38" height="1.19"/><rect x="22.94" y="1224.98" width="1.19" height="1.19"/><rect x="26.51" y="1224.98" width="4.75" height="1.19"/><rect x="37.21" y="1224.98" width="1.19" height="1.19"/><rect x="41.96" y="1224.98" width="2.38" height="1.19"/><rect x="45.53" y="1224.98" width="1.19" height="1.19"/><rect x="47.91" y="1224.98" width="2.38" height="1.19"/><rect x="51.47" y="1224.98" width="2.38" height="1.19"/><rect x="62.17" y="1224.98" width="1.19" height="1.19"/><rect x="64.55" y="1224.98" width="1.19" height="1.19"/><rect x="66.92" y="1224.98" width="1.19" height="1.19"/><rect x="71.68" y="1224.98" width="1.19" height="1.19"/><rect x="74.06" y="1224.98" width="1.19" height="1.19"/><rect x="76.43" y="1224.98" width="2.38" height="1.19"/><rect x="17.00" y="1226.17" width="1.19" height="1.19"/><rect x="21.75" y="1226.17" width="13.08" height="1.19"/><rect x="40.77" y="1226.17" width="1.19" height="1.19"/><rect x="43.15" y="1226.17" width="1.19" height="1.19"/><rect x="46.72" y="1226.17" width="4.75" height="1.19"/><rect x="52.66" y="1226.17" width="1.19" height="1.19"/><rect x="55.04" y="1226.17" width="2.38" height="1.19"/><rect x="58.60" y="1226.17" width="1.19" height="1.19"/><rect x="60.98" y="1226.17" width="2.38" height="1.19"/><rect x="64.55" y="1226.17" width="1.19" height="1.19"/><rect x="66.92" y="1226.17" width="2.38" height="1.19"/><rect x="70.49" y="1226.17" width="4.75" height="1.19"/><rect x="76.43" y="1226.17" width="2.38" height="1.19"/><rect x="18.19" y="1227.36" width="3.57" height="1.19"/><rect x="31.26" y="1227.36" width="1.19" height="1.19"/><rect x="36.02" y="1227.36" width="1.19" height="1.19"/><rect x="38.40" y="1227.36" width="1.19" height="1.19"/><rect x="41.96" y="1227.36" width="1.19" height="1.19"/><rect x="45.53" y="1227.36" width="1.19" height="1.19"/><rect x="50.28" y="1227.36" width="3.57" height="1.19"/><rect x="55.04" y="1227.36" width="2.38" height="1.19"/><rect x="58.60" y="1227.36" width="2.38" height="1.19"/><rect x="63.36" y="1227.36" width="5.94" height="1.19"/><rect x="71.68" y="1227.36" width="1.19" height="1.19"/><rect x="74.06" y="1227.36" width="1.19" height="1.19"/><rect x="78.81" y="1227.36" width="1.19" height="1.19"/><rect x="17.00" y="1228.55" width="1.19" height="1.19"/><rect x="19.38" y="1228.55" width="2.38" height="1.19"/><rect x="22.94" y="1228.55" width="2.38" height="1.19"/><rect x="32.45" y="1228.55" width="2.38" height="1.19"/><rect x="36.02" y="1228.55" width="1.19" height="1.19"/><rect x="40.77" y="1228.55" width="3.57" height="1.19"/><rect x="49.09" y="1228.55" width="2.38" height="1.19"/><rect x="53.85" y="1228.55" width="1.19" height="1.19"/><rect x="57.42" y="1228.55" width="2.38" height="1.19"/><rect x="63.36" y="1228.55" width="1.19" height="1.19"/><rect x="70.49" y="1228.55" width="3.57" height="1.19"/><rect x="76.43" y="1228.55" width="2.38" height="1.19"/><rect x="18.19" y="1229.74" width="1.19" height="1.19"/><rect x="21.75" y="1229.74" width="2.38" height="1.19"/><rect x="25.32" y="1229.74" width="1.19" height="1.19"/><rect x="27.70" y="1229.74" width="2.38" height="1.19"/><rect x="33.64" y="1229.74" width="2.38" height="1.19"/><rect x="37.21" y="1229.74" width="1.19" height="1.19"/><rect x="43.15" y="1229.74" width="3.57" height="1.19"/><rect x="47.91" y="1229.74" width="3.57" height="1.19"/><rect x="56.23" y="1229.74" width="2.38" height="1.19"/><rect x="59.79" y="1229.74" width="1.19" height="1.19"/><rect x="62.17" y="1229.74" width="4.75" height="1.19"/><rect x="69.30" y="1229.74" width="4.75" height="1.19"/><rect x="77.62" y="1229.74" width="1.19" height="1.19"/><rect x="17.00" y="1230.92" width="2.38" height="1.19"/><rect x="21.75" y="1230.92" width="1.19" height="1.19"/><rect x="24.13" y="1230.92" width="2.38" height="1.19"/><rect x="28.89" y="1230.92" width="1.19" height="1.19"/><rect x="31.26" y="1230.92" width="2.38" height="1.19"/><rect x="34.83" y="1230.92" width="2.38" height="1.19"/><rect x="38.40" y="1230.92" width="1.19" height="1.19"/><rect x="40.77" y="1230.92" width="4.75" height="1.19"/><rect x="46.72" y="1230.92" width="1.19" height="1.19"/><rect x="49.09" y="1230.92" width="1.19" height="1.19"/><rect x="51.47" y="1230.92" width="4.75" height="1.19"/><rect x="57.42" y="1230.92" width="7.13" height="1.19"/><rect x="65.74" y="1230.92" width="2.38" height="1.19"/><rect x="69.30" y="1230.92" width="2.38" height="1.19"/><rect x="72.87" y="1230.92" width="2.38" height="1.19"/><rect x="77.62" y="1230.92" width="2.38" height="1.19"/><rect x="18.19" y="1232.11" width="1.19" height="1.19"/><rect x="20.57" y="1232.11" width="1.19" height="1.19"/><rect x="25.32" y="1232.11" width="2.38" height="1.19"/><rect x="28.89" y="1232.11" width="1.19" height="1.19"/><rect x="32.45" y="1232.11" width="2.38" height="1.19"/><rect x="36.02" y="1232.11" width="1.19" height="1.19"/><rect x="38.40" y="1232.11" width="1.19" height="1.19"/><rect x="41.96" y="1232.11" width="1.19" height="1.19"/><rect x="44.34" y="1232.11" width="1.19" height="1.19"/><rect x="47.91" y="1232.11" width="4.75" height="1.19"/><rect x="53.85" y="1232.11" width="1.19" height="1.19"/><rect x="56.23" y="1232.11" width="1.19" height="1.19"/><rect x="58.60" y="1232.11" width="1.19" height="1.19"/><rect x="60.98" y="1232.11" width="5.94" height="1.19"/><rect x="68.11" y="1232.11" width="2.38" height="1.19"/><rect x="75.25" y="1232.11" width="3.57" height="1.19"/><rect x="18.19" y="1233.30" width="2.38" height="1.19"/><rect x="22.94" y="1233.30" width="3.57" height="1.19"/><rect x="27.70" y="1233.30" width="2.38" height="1.19"/><rect x="33.64" y="1233.30" width="9.51" height="1.19"/><rect x="44.34" y="1233.30" width="7.13" height="1.19"/><rect x="52.66" y="1233.30" width="2.38" height="1.19"/><rect x="57.42" y="1233.30" width="2.38" height="1.19"/><rect x="62.17" y="1233.30" width="3.57" height="1.19"/><rect x="66.92" y="1233.30" width="1.19" height="1.19"/><rect x="69.30" y="1233.30" width="5.94" height="1.19"/><rect x="76.43" y="1233.30" width="2.38" height="1.19"/><rect x="27.70" y="1234.49" width="1.19" height="1.19"/><rect x="31.26" y="1234.49" width="1.19" height="1.19"/><rect x="33.64" y="1234.49" width="1.19" height="1.19"/><rect x="37.21" y="1234.49" width="1.19" height="1.19"/><rect x="43.15" y="1234.49" width="3.57" height="1.19"/><rect x="50.28" y="1234.49" width="1.19" height="1.19"/><rect x="53.85" y="1234.49" width="2.38" height="1.19"/><rect x="57.42" y="1234.49" width="1.19" height="1.19"/><rect x="59.79" y="1234.49" width="2.38" height="1.19"/><rect x="63.36" y="1234.49" width="1.19" height="1.19"/><rect x="65.74" y="1234.49" width="1.19" height="1.19"/><rect x="69.30" y="1234.49" width="1.19" height="1.19"/><rect x="74.06" y="1234.49" width="1.19" height="1.19"/><rect x="77.62" y="1234.49" width="2.38" height="1.19"/><rect x="17.00" y="1235.68" width="8.32" height="1.19"/><rect x="26.51" y="1235.68" width="7.13" height="1.19"/><rect x="36.02" y="1235.68" width="1.19" height="1.19"/><rect x="40.77" y="1235.68" width="5.94" height="1.19"/><rect x="47.91" y="1235.68" width="1.19" height="1.19"/><rect x="50.28" y="1235.68" width="1.19" height="1.19"/><rect x="53.85" y="1235.68" width="4.75" height="1.19"/><rect x="60.98" y="1235.68" width="2.38" height="1.19"/><rect x="66.92" y="1235.68" width="1.19" height="1.19"/><rect x="69.30" y="1235.68" width="1.19" height="1.19"/><rect x="71.68" y="1235.68" width="1.19" height="1.19"/><rect x="74.06" y="1235.68" width="3.57" height="1.19"/><rect x="78.81" y="1235.68" width="1.19" height="1.19"/><rect x="17.00" y="1236.87" width="1.19" height="1.19"/><rect x="24.13" y="1236.87" width="1.19" height="1.19"/><rect x="27.70" y="1236.87" width="4.75" height="1.19"/><rect x="33.64" y="1236.87" width="1.19" height="1.19"/><rect x="36.02" y="1236.87" width="2.38" height="1.19"/><rect x="39.58" y="1236.87" width="4.75" height="1.19"/><rect x="45.53" y="1236.87" width="1.19" height="1.19"/><rect x="50.28" y="1236.87" width="2.38" height="1.19"/><rect x="55.04" y="1236.87" width="3.57" height="1.19"/><rect x="62.17" y="1236.87" width="3.57" height="1.19"/><rect x="66.92" y="1236.87" width="3.57" height="1.19"/><rect x="74.06" y="1236.87" width="1.19" height="1.19"/><rect x="17.00" y="1238.06" width="1.19" height="1.19"/><rect x="19.38" y="1238.06" width="3.57" height="1.19"/><rect x="24.13" y="1238.06" width="1.19" height="1.19"/><rect x="27.70" y="1238.06" width="2.38" height="1.19"/><rect x="31.26" y="1238.06" width="2.38" height="1.19"/><rect x="34.83" y="1238.06" width="2.38" height="1.19"/><rect x="38.40" y="1238.06" width="1.19" height="1.19"/><rect x="40.77" y="1238.06" width="1.19" height="1.19"/><rect x="44.34" y="1238.06" width="7.13" height="1.19"/><rect x="52.66" y="1238.06" width="2.38" height="1.19"/><rect x="56.23" y="1238.06" width="2.38" height="1.19"/><rect x="59.79" y="1238.06" width="1.19" height="1.19"/><rect x="62.17" y="1238.06" width="1.19" height="1.19"/><rect x="65.74" y="1238.06" width="10.70" height="1.19"/><rect x="78.81" y="1238.06" width="1.19" height="1.19"/><rect x="17.00" y="1239.25" width="1.19" height="1.19"/><rect x="19.38" y="1239.25" width="3.57" height="1.19"/><rect x="24.13" y="1239.25" width="1.19" height="1.19"/><rect x="26.51" y="1239.25" width="4.75" height="1.19"/><rect x="32.45" y="1239.25" width="2.38" height="1.19"/><rect x="36.02" y="1239.25" width="1.19" height="1.19"/><rect x="44.34" y="1239.25" width="1.19" height="1.19"/><rect x="46.72" y="1239.25" width="1.19" height="1.19"/><rect x="51.47" y="1239.25" width="2.38" height="1.19"/><rect x="57.42" y="1239.25" width="1.19" height="1.19"/><rect x="59.79" y="1239.25" width="1.19" height="1.19"/><rect x="63.36" y="1239.25" width="1.19" height="1.19"/><rect x="66.92" y="1239.25" width="3.57" height="1.19"/><rect x="72.87" y="1239.25" width="3.57" height="1.19"/><rect x="77.62" y="1239.25" width="1.19" height="1.19"/><rect x="17.00" y="1240.43" width="1.19" height="1.19"/><rect x="19.38" y="1240.43" width="3.57" height="1.19"/><rect x="24.13" y="1240.43" width="1.19" height="1.19"/><rect x="27.70" y="1240.43" width="3.57" height="1.19"/><rect x="34.83" y="1240.43" width="2.38" height="1.19"/><rect x="39.58" y="1240.43" width="3.57" height="1.19"/><rect x="44.34" y="1240.43" width="1.19" height="1.19"/><rect x="47.91" y="1240.43" width="3.57" height="1.19"/><rect x="53.85" y="1240.43" width="4.75" height="1.19"/><rect x="59.79" y="1240.43" width="3.57" height="1.19"/><rect x="64.55" y="1240.43" width="3.57" height="1.19"/><rect x="69.30" y="1240.43" width="2.38" height="1.19"/><rect x="72.87" y="1240.43" width="2.38" height="1.19"/><rect x="76.43" y="1240.43" width="1.19" height="1.19"/><rect x="17.00" y="1241.62" width="1.19" height="1.19"/><rect x="24.13" y="1241.62" width="1.19" height="1.19"/><rect x="27.70" y="1241.62" width="2.38" height="1.19"/><rect x="34.83" y="1241.62" width="1.19" height="1.19"/><rect x="40.77" y="1241.62" width="1.19" height="1.19"/><rect x="43.15" y="1241.62" width="4.75" height="1.19"/><rect x="49.09" y="1241.62" width="8.32" height="1.19"/><rect x="58.60" y="1241.62" width="2.38" height="1.19"/><rect x="62.17" y="1241.62" width="5.94" height="1.19"/><rect x="71.68" y="1241.62" width="1.19" height="1.19"/><rect x="75.25" y="1241.62" width="2.38" height="1.19"/><rect x="17.00" y="1242.81" width="8.32" height="1.19"/><rect x="26.51" y="1242.81" width="4.75" height="1.19"/><rect x="32.45" y="1242.81" width="3.57" height="1.19"/><rect x="39.58" y="1242.81" width="1.19" height="1.19"/><rect x="44.34" y="1242.81" width="1.19" height="1.19"/><rect x="47.91" y="1242.81" width="3.57" height="1.19"/><rect x="56.23" y="1242.81" width="2.38" height="1.19"/><rect x="60.98" y="1242.81" width="1.19" height="1.19"/><rect x="63.36" y="1242.81" width="4.75" height="1.19"/><rect x="69.30" y="1242.81" width="2.38" height="1.19"/><rect x="72.87" y="1242.81" width="3.57" height="1.19"/></g>
<rect x="39.6" y="1203.8" width="17.6" height="17.6" fill="#fff"/>
<rect x="40.8" y="1205" width="15.2" height="15.2" rx="1.6" fill="#de1f1a"/>
<rect x="48.2" y="1205" width="0.6" height="15.2" fill="#f6c9c6"/>
<rect x="40.8" y="1212.4" width="15.2" height="0.6" fill="#f6c9c6"/>
<g stroke="#fff" stroke-width="0.7" fill="none" stroke-linecap="round">
<path d="M43,1207 L46.5,1211 M45,1206.5 L44,1208.5 M42.5,1209.5 L44,1209.5 M43.5,1210.5 L43,1211.5"/>
<path d="M52.5,1206.5 L51,1209 M50.5,1208 L52,1210.5 L50.2,1211.5 M53,1208.5 L53.5,1208"/>
<path d="M42.8,1215.5 L43.5,1217.5 M46,1214.5 L45.2,1218.5 M44.8,1216 L46,1216"/>
<path d="M52,1214 L51.5,1219 M50,1216 L54,1215.5 M50.5,1218 L53.5,1217.5"/>
</g>
</svg>
<div class="lb" id="a0" style="left:452.99px;top:201.75px;color:#c23531;transform:matrix(0.9886,0,0,1.0000,0,0)"><span class="c">美国</span>:8,019,237<span class="c">人</span></div>
<div class="lb" id="a1" style="left:552.51px;top:284.70px;color:#2f4554;transform:matrix(0.9884,0,0,1.0000,0,0)"><span class="c">印度</span>:7,550,273<span class="c">人</span></div>
<div class="lb" id="a2" style="left:526.01px;top:419.50px;color:#61a0a8;transform:matrix(0.9885,0,0,1.0000,0,0)"><span class="c">巴西</span>:5,224,362<span class="c">人</span></div>
<div class="lb" id="a3" style="left:474.98px;top:495.50px;color:#d48265;transform:matrix(0.9844,0,0,1.0000,0,0)"><span class="c">俄罗斯</span>:1,415,316<span class="c">人</span></div>
<div class="lb" id="a4" style="left:417.00px;top:545.30px;color:#91c7ae;transform:matrix(0.9939,0,0,1.0000,0,0)"><span class="c">阿根廷</span>:979,119<span class="c">人</span></div>
<div class="lb" id="a5" style="left:66.00px;top:491.80px;color:#749f83;transform:matrix(0.9876,0,0,1.0000,0,0)"><span class="c">哥伦比亚</span>:952,371<span class="c">人</span></div>
<div class="lb" id="a6" style="left:66.75px;top:458.10px;color:#ca8622;transform:matrix(0.9852,0,0,1.0000,0,0)"><span class="c">西班牙</span>:936,560<span class="c">人</span></div>
<div class="lb" id="a7" style="left:92.49px;top:418.30px;color:#bda29a;transform:matrix(0.9861,0,0,1.0000,0,0)"><span class="c">法国</span>:867,978<span class="c">人</span></div>
<div class="lb" id="a8" style="left:79.99px;top:369.40px;color:#6e7074;transform:matrix(0.9852,0,0,1.0000,0,0)"><span class="c">秘鲁</span>:865,549<span class="c">人</span></div>
<div class="lb" id="a9" style="left:84.50px;top:326.70px;color:#546570;transform:matrix(0.9887,0,0,1.0000,0,0)"><span class="c">墨西哥</span>:847,108<span class="c">人</span></div>
<div class="lb lb2" id="b0" style="left:452.51px;top:726.90px;color:#c23531;transform:matrix(0.9877,0,0,1.0000,0,0)"><span class="c">印度</span>:55,722<span class="c">人</span></div>
<div class="lb lb2" id="b1" style="left:559.98px;top:815.80px;color:#2f4554;transform:matrix(0.9858,0,0,1.0000,0,0)"><span class="c">美国</span>:52,508<span class="c">人</span></div>
<div class="lb lb2" id="b2" style="left:513.98px;top:958.00px;color:#61a0a8;transform:matrix(0.9868,0,0,1.0000,0,0)"><span class="c">法国</span>:29,833<span class="c">人</span></div>
<div class="lb lb2" id="b3" style="left:470.52px;top:1035.90px;color:#d48265;transform:matrix(0.9917,0,0,1.0000,0,0)"><span class="c">巴西</span>:24,062<span class="c">人</span></div>
<div class="lb lb2" id="b4" style="left:409.74px;top:1082.90px;color:#91c7ae;transform:matrix(0.9848,0,0,1.0000,0,0)"><span class="c">英国</span>:16,981<span class="c">人</span></div>
<div class="lb lb2" id="b5" style="left:78.99px;top:1066.00px;color:#749f83;transform:matrix(0.9815,0,0,1.0000,0,0)"><span class="c">俄罗斯</span>:15,982<span class="c">人</span></div>
<div class="lb lb2" id="b6" style="left:37.01px;top:1016.00px;color:#ca8622;transform:matrix(0.9840,0,0,1.0000,0,0)"><span class="c">阿根廷</span>:13,510<span class="c">人</span></div>
<div class="lb lb2" id="b7" style="left:34.24px;top:957.40px;color:#bda29a;transform:matrix(0.9902,0,0,1.0000,0,0)"><span class="c">意大利</span>:11,705<span class="c">人</span></div>
<div class="lb lb2" id="b8" style="left:93.97px;top:905.70px;color:#6e7074;transform:matrix(0.9788,0,0,1.0000,0,0)"><span class="c">波兰</span>:8,536<span class="c">人</span></div>
<div class="lb lb2" id="b9" style="left:130.99px;top:865.30px;color:#546570;transform:matrix(0.9765,0,0,1.0000,0,0)"><span class="c">荷兰</span>:8,439<span class="c">人</span></div>
<div class="t" id="t1" style="left:43.09px;top:26.73px;font-size:68px;font-weight:normal;-webkit-text-stroke:1.6px #6f4d2e;color:#6f4d2e;transform:matrix(0.7829,0,0,1.0164,0,0)">10</div>
<div class="t" id="t2" style="left:105.31px;top:32.55px;font-size:56px;font-weight:normal;-webkit-text-stroke:2.2px #6f4d2e;color:#6f4d2e;transform:matrix(1.1957,0,0,1.0501,0,0)">月</div>
<div class="t" id="t3" style="left:164.22px;top:28.13px;font-size:68px;font-weight:normal;-webkit-text-stroke:1.6px #6f4d2e;color:#6f4d2e;transform:matrix(0.7533,0,0,0.9919,0,0)">19</div>
<div class="t" id="t4" style="left:218.95px;top:31.44px;font-size:56px;font-weight:normal;-webkit-text-stroke:2.2px #6f4d2e;color:#6f4d2e;transform:matrix(1.2567,0,0,1.0621,0,0)">日</div>
<div class="t" id="t5" style="left:289.01px;top:33.86px;font-size:56px;font-weight:bold;letter-spacing:6px;-webkit-text-stroke:0.7px #6f4d2e;color:#6f4d2e;transform:matrix(1.0077,0,0,1.0288,0,0)">全球疫情数据</div>
<div class="t" id="lg1" style="left:696.67px;top:42.59px;font-size:24px;font-weight:300;color:#8a8a8a;transform:matrix(1.0313,0,0,0.9675,0,0)">图观</div>
<div class="t" id="lg2" style="left:695.98px;top:66.99px;font-size:24px;color:#000;transform:matrix(1.0306,0,0,1.0098,0,0)">数据</div>
<div class="t" id="lg3" style="left:701.00px;top:97.00px;font-size:7.2px;line-height:9px;color:#fff;font-weight:bold;letter-spacing:0.6px;transform:matrix(0.9300,0,0,0.8600,0,0)">证券时报出品</div>
<div class="t" id="s1" style="left:230.94px;top:150.08px;font-size:35px;color:#000;transform:matrix(1.0293,0,0,0.9710,0,0)">累计感染人数前十名</div>
<div class="t" id="s2" style="left:237.47px;top:651.31px;font-size:35px;color:#000;transform:matrix(1.0286,0,0,0.9295,0,0)">新增感染人数前十名</div>
<div class="t" id="f1" style="left:101.24px;top:1191.57px;font-size:16px;font-weight:bold;color:#45342a;transform:matrix(1.0245,0,0,0.9307,0,0)">下载证券时报app</div>
<div class="t" id="f2" style="left:101.27px;top:1217.85px;font-size:16px;font-weight:bold;color:#45342a;transform:matrix(0.9419,0,0,0.8147,0,0)">发现投资价值</div>
<div class="t" id="f3" style="left:588.50px;top:1190.35px;font-size:16px;font-weight:bold;color:#3f2e21;transform:matrix(1.0000,0,0,0.9470,0,0)">数据来源：世界卫生组织</div>
<div class="t" id="f4" style="left:587.48px;top:1217.84px;font-size:16px;font-weight:bold;color:#3f2e21;transform:matrix(1.0186,0,0,0.9097,0,0)">图表制作：杜羽</div>
</body></html>
